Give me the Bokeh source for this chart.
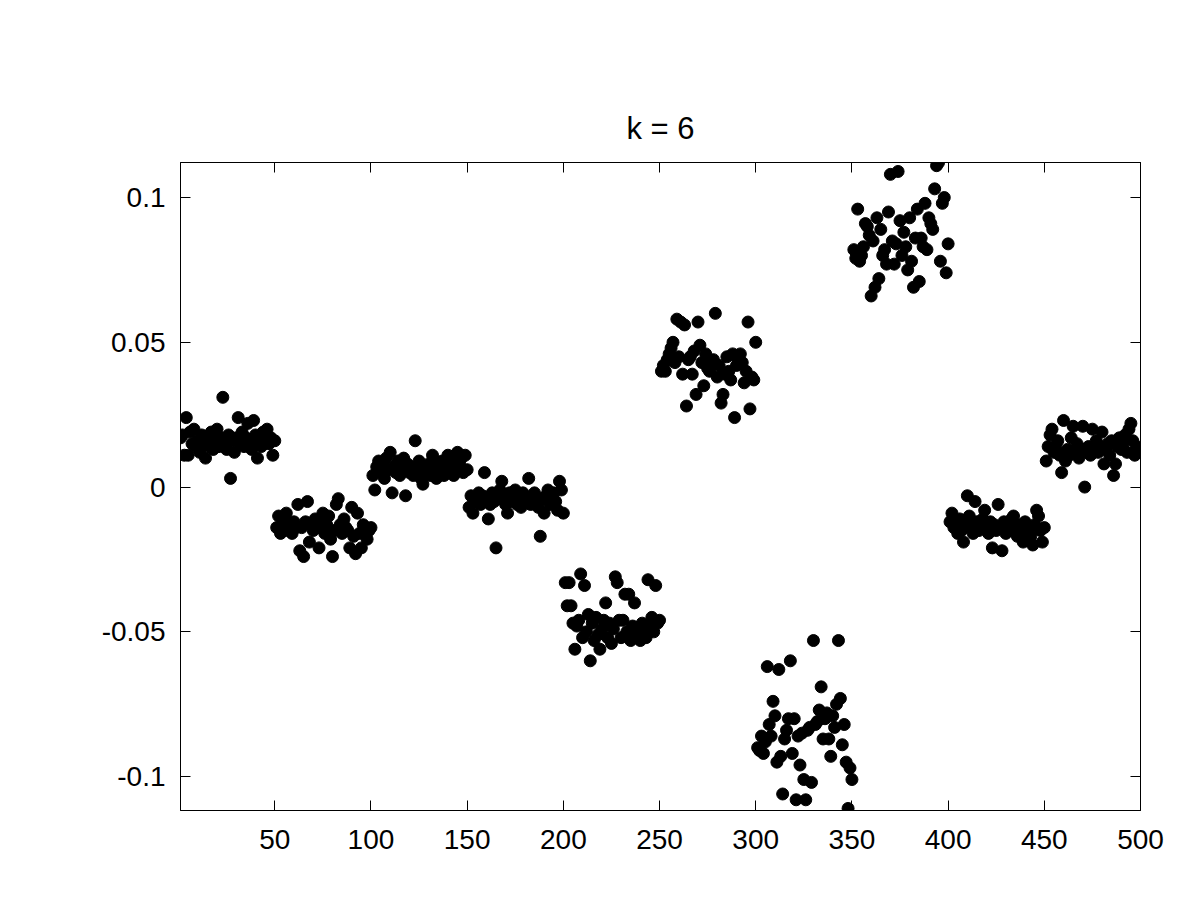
import numpy as np
from bokeh.plotting import figure
from bokeh.models import Range1d, LinearAxis, FixedTicker, CustomJSTickFormatter, ColumnDataSource
from bokeh.embed import file_html
from bokeh.resources import INLINE

# ---- data: 10 clusters of 50 points (index 1..500) ----
c1 = [0.017, 0.018, 0.011, 0.024, 0.011, 0.019, 0.015, 0.020, 0.014, 0.016,
      0.012, 0.018, 0.015, 0.010, 0.017, 0.014, 0.019, 0.013, 0.016, 0.020,
      0.014, 0.017, 0.031, 0.015, 0.013, 0.018, 0.003, 0.016, 0.012, 0.017,
      0.024, 0.015, 0.019, 0.014, 0.017, 0.022, 0.016, 0.013, 0.023, 0.018,
      0.010, 0.016, 0.014, 0.019, 0.017, 0.020, 0.015, 0.017, 0.011, 0.016]
c2 = [-0.014, -0.010, -0.016, -0.013, -0.012, -0.009, -0.015, -0.013, -0.016, -0.012,
      -0.014, -0.006, -0.022, -0.014, -0.024, -0.012, -0.005, -0.019, -0.013, -0.015,
      -0.011, -0.014, -0.021, -0.012, -0.009, -0.016, -0.013, -0.010, -0.018, -0.024,
      -0.015, -0.006, -0.004, -0.013, -0.016, -0.011, -0.014, -0.015, -0.021, -0.007,
      -0.017, -0.023, -0.009, -0.016, -0.021, -0.013, -0.014, -0.018, -0.015, -0.014]
c3 = [0.004, -0.001, 0.007, 0.009, 0.005, 0.008, 0.003, 0.010, 0.006, 0.012,
      -0.002, 0.007, 0.005, 0.009, 0.004, 0.006, 0.010, -0.003, 0.008, 0.005,
      0.007, 0.004, 0.016, 0.006, 0.009, 0.003, 0.001, 0.007, 0.005, 0.008,
      0.004, 0.011, 0.006, 0.003, 0.008, 0.005, 0.009, 0.004, 0.007, 0.011,
      0.006, 0.009, 0.004, 0.007, 0.012, 0.008, 0.010, 0.005, 0.011, 0.006]
c4 = [-0.007, -0.003, -0.009, -0.004, -0.005, -0.002, -0.006, -0.003, 0.005, -0.004,
      -0.011, -0.006, -0.002, -0.005, -0.021, -0.004, -0.001, 0.002, -0.003, -0.006,
      -0.009, -0.002, -0.005, -0.004, -0.001, -0.006, -0.003, -0.007, -0.002, -0.005,
      -0.004, 0.003, -0.006, -0.003, -0.002, -0.005, -0.007, -0.017, -0.004, -0.009,
      -0.003, -0.001, -0.006, -0.004, -0.002, -0.005, -0.008, 0.002, -0.001, -0.009]
c5 = [-0.033, -0.041, -0.033, -0.041, -0.047, -0.056, -0.048, -0.046, -0.030, -0.052,
      -0.034, -0.050, -0.044, -0.060, -0.047, -0.053, -0.045, -0.051, -0.056, -0.049,
      -0.046, -0.040, -0.052, -0.047, -0.054, -0.049, -0.031, -0.033, -0.046, -0.052,
      -0.046, -0.037, -0.050, -0.037, -0.053, -0.048, -0.040, -0.051, -0.049, -0.053,
      -0.047, -0.050, -0.052, -0.032, -0.048, -0.045, -0.050, -0.034, -0.047, -0.046]
c6 = [0.040, 0.042, 0.040, 0.044, 0.046, 0.048, 0.050, 0.043, 0.058, 0.045,
      0.057, 0.039, 0.056, 0.028, 0.044, 0.045, 0.039, 0.047, 0.032, 0.057,
      0.049, 0.043, 0.035, 0.046, 0.041, 0.040, 0.043, 0.044, 0.060, 0.038,
      0.042, 0.029, 0.032, 0.039, 0.045, 0.040, 0.037, 0.046, 0.024, 0.042,
      0.044, 0.046, 0.043, 0.036, 0.040, 0.057, 0.027, 0.038, 0.037, 0.050]
c7 = [-0.090, -0.091, -0.086, -0.092, -0.088, -0.062, -0.082, -0.086, -0.074, -0.079,
      -0.095, -0.063, -0.093, -0.106, -0.087, -0.084, -0.080, -0.060, -0.092, -0.080,
      -0.108, -0.086, -0.096, -0.085, -0.101, -0.108, -0.084, -0.083, -0.102, -0.053,
      -0.082, -0.081, -0.077, -0.069, -0.087, -0.080, -0.078, -0.087, -0.093, -0.079,
      -0.083, -0.075, -0.053, -0.073, -0.089, -0.082, -0.095, -0.111, -0.097, -0.101]
c8 = [0.082, 0.079, 0.096, 0.078, 0.080, 0.083, 0.091, 0.090, 0.087, 0.066,
      0.085, 0.069, 0.093, 0.072, 0.089, 0.080, 0.082, 0.077, 0.095, 0.108,
      0.085, 0.077, 0.084, 0.109, 0.092, 0.080, 0.088, 0.083, 0.075, 0.093,
      0.078, 0.069, 0.086, 0.096, 0.071, 0.086, 0.083, 0.098, 0.082, 0.093,
      0.091, 0.089, 0.103, 0.111, 0.112, 0.078, 0.098, 0.100, 0.074, 0.084]
c9 = [-0.012, -0.009, -0.014, -0.013, -0.016, -0.011, -0.015, -0.019, -0.013, -0.003,
      -0.010, -0.014, -0.016, -0.005, -0.012, -0.015, -0.013, -0.011, -0.008, -0.014,
      -0.016, -0.012, -0.021, -0.013, -0.015, -0.006, -0.014, -0.022, -0.012, -0.016,
      -0.013, -0.015, -0.011, -0.010, -0.014, -0.017, -0.013, -0.015, -0.019, -0.012,
      -0.016, -0.014, -0.017, -0.020, -0.013, -0.008, -0.010, -0.015, -0.019, -0.014]
c10 = [0.009, 0.014, 0.018, 0.020, 0.012, 0.014, 0.016, 0.011, 0.005, 0.023,
       0.009, 0.013, 0.011, 0.017, 0.021, 0.012, 0.015, 0.010, 0.013, 0.021,
       0.000, 0.012, 0.014, 0.011, 0.020, 0.013, 0.016, 0.012, 0.014, 0.019,
       0.008, 0.013, 0.015, 0.011, 0.016, 0.004, 0.008, 0.014, 0.017, 0.013,
       0.015, 0.018, 0.012, 0.020, 0.022, 0.016, 0.011, 0.014, 0.013, 0.012]

x_ticks = [50, 100, 150, 200, 250, 300, 350, 400, 450, 500]
y_ticks = [-0.1, -0.05, 0, 0.05, 0.1]
title_text = "k = 6"

values = c1 + c2 + c3 + c4 + c5 + c6 + c7 + c8 + c9 + c10
index = list(range(1, len(values) + 1))
src = ColumnDataSource(dict(x=index, y=values))

FONT = "Liberation Sans"
TICK_PX = "28px"

p = figure(width=1184, height=884, output_backend="svg", toolbar_location=None,
           x_range=Range1d(1, 500), y_range=Range1d(-0.1117, 0.1121),
           min_border_left=180, min_border_right=44,
           min_border_top=162, min_border_bottom=74,
           title=title_text, x_axis_location=None, y_axis_location=None)
p.background_fill_color = "white"
p.border_fill_color = "white"
p.grid.visible = False
p.outline_line_color = "black"
p.outline_line_width = 1

p.title.align = "center"
p.title.text_font = FONT
p.title.text_font_size = "31px"
p.title.text_font_style = "normal"
p.title.text_color = "black"
p.title.standoff = 33
p.title.offset = -4

def style_axis(ax, labels=True):
    ax.axis_line_color = "black"
    ax.major_tick_line_color = "black"
    ax.major_tick_in = 10
    ax.major_tick_out = 0
    ax.minor_tick_line_color = None
    ax.major_label_text_font = FONT
    ax.major_label_text_color = "black"
    if labels:
        ax.major_label_text_font_size = TICK_PX
    else:
        ax.major_label_text_font_size = "0px"
        ax.major_label_standoff = 0
        ax.formatter = CustomJSTickFormatter(code="return '';")

fmt = CustomJSTickFormatter(code="return String(tick);")

xb = LinearAxis(ticker=FixedTicker(ticks=x_ticks), formatter=fmt)
style_axis(xb)
xb.major_label_standoff = 19
p.add_layout(xb, "below")

yl = LinearAxis(ticker=FixedTicker(ticks=y_ticks), formatter=fmt)
style_axis(yl)
yl.major_label_standoff = 15
p.add_layout(yl, "left")

xt = LinearAxis(ticker=FixedTicker(ticks=x_ticks))
style_axis(xt, labels=False)
p.add_layout(xt, "above")

yr = LinearAxis(ticker=FixedTicker(ticks=y_ticks))
style_axis(yr, labels=False)
p.add_layout(yr, "right")

p.scatter("x", "y", source=src, size=12, fill_color="black", line_color="black")

open("out.html", "w").write(file_html(p, INLINE))
